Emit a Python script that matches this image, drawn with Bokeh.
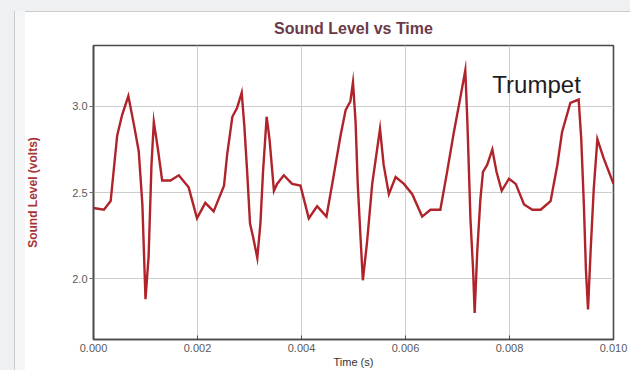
from bokeh.plotting import figure
from bokeh.models import Range1d, FixedTicker, NumeralTickFormatter, Label
from bokeh.embed import file_html
from bokeh.resources import INLINE

# Time (s) and sound level (volts)
times = [0.00000, 0.00020, 0.00033, 0.000455, 0.00055, 0.00067, 0.00078, 0.00087, 0.00094, 0.00100,
         0.00106, 0.001115, 0.00116, 0.00124, 0.00132, 0.00148, 0.00164, 0.00183, 0.00199, 0.00215,
         0.00231, 0.00251, 0.00257, 0.00267, 0.00276, 0.00285, 0.00290, 0.002955, 0.00301, 0.00307,
         0.00315, 0.00321, 0.00326, 0.00333, 0.003385, 0.00347, 0.00353, 0.00366, 0.00382, 0.00398,
         0.00414, 0.00430, 0.00448, 0.00462, 0.00475, 0.00485, 0.00494, 0.00499, 0.00504, 0.00508,
         0.005135, 0.00518, 0.00526, 0.00536, 0.00551, 0.00558, 0.00568, 0.00581, 0.00597, 0.00613,
         0.00632, 0.00648, 0.00667, 0.00680, 0.00693, 0.00706, 0.00715, 0.00719, 0.00725, 0.00730,
         0.00733, 0.00738, 0.00744, 0.00749, 0.00757, 0.00767, 0.00775, 0.00785, 0.00799, 0.00812,
         0.00828, 0.00844, 0.00860, 0.00879, 0.00892, 0.00901, 0.00917, 0.00933, 0.00938, 0.00943,
         0.00947, 0.00951, 0.00956, 0.00962, 0.00969, 0.00981, 0.01000]
levels = [2.41, 2.40, 2.45, 2.83, 2.95, 3.06, 2.89, 2.74, 2.43, 1.88,
          2.13, 2.66, 2.91, 2.75, 2.57, 2.57, 2.60, 2.53, 2.35, 2.44,
          2.39, 2.54, 2.72, 2.94, 2.99, 3.08, 2.89, 2.62, 2.32, 2.24,
          2.12, 2.32, 2.62, 2.94, 2.81, 2.51, 2.55, 2.60, 2.55, 2.54,
          2.35, 2.42, 2.36, 2.60, 2.83, 2.98, 3.03, 3.14, 2.91, 2.56,
          2.24, 1.99, 2.21, 2.55, 2.87, 2.66, 2.49, 2.59, 2.55, 2.49,
          2.36, 2.40, 2.40, 2.62, 2.85, 3.06, 3.21, 2.91, 2.34, 2.05,
          1.80, 2.16, 2.46, 2.62, 2.66, 2.75, 2.62, 2.51, 2.58, 2.55,
          2.43, 2.40, 2.40, 2.45, 2.66, 2.85, 3.02, 3.04, 2.81, 2.43,
          2.05, 1.82, 2.16, 2.52, 2.81, 2.70, 2.55]

x_ticks = [0.000, 0.002, 0.004, 0.006, 0.008, 0.010]
y_ticks = [2.0, 2.5, 3.0]
title_text = "Sound Level vs Time"
x_label = "Time (s)"
y_label = "Sound Level (volts)"
instrument = "Trumpet"

FONT = "Liberation Sans"

p = figure(width=630, height=370, output_backend="svg", toolbar_location=None,
           x_range=Range1d(0, 0.010), y_range=Range1d(1.646, 3.354),
           min_border_left=93, min_border_right=17, min_border_top=45, min_border_bottom=0,
           title=title_text)

p.background_fill_color = "white"
p.border_fill_color = "white"
p.border_fill_alpha = 0.0
# page surround: grey strips at the top and left with a thin panel edge
p.styles = {
    "background": (
        "linear-gradient(to right, #eef0f1 0px, #eef0f1 14px, #c9cbcd 14px, #c9cbcd 15px, "
        "#f4f5f6 15px, #f4f5f6 25px, rgba(255,255,255,0) 25px) 0px 11px / 100% 100% no-repeat, "
        "linear-gradient(to bottom, #eef0f1 0px, #eef0f1 11px, #c9cbcd 11px, #c9cbcd 12px, "
        "#ffffff 12px) 0px 0px / 100% 100% no-repeat"
    )
}
p.outline_line_color = "#4a4a4a"
p.outline_line_width = 1.6

p.title.align = "center"
p.title.text_font = FONT
p.title.text_font_size = "16px"
p.title.text_font_style = "bold"
p.title.text_color = "#6b3a4a"
p.title.standoff = 18

# grids
p.xgrid.grid_line_color = "#cdcdcd"
p.ygrid.grid_line_color = "#cdcdcd"

# x axis
xa = p.xaxis[0]
xa.ticker = FixedTicker(ticks=x_ticks)
xa.formatter = NumeralTickFormatter(format="0.000")
xa.minor_tick_line_color = None
xa.major_tick_in = 4
xa.major_tick_out = 0
xa.major_tick_line_color = "#4a4a4a"
xa.axis_line_color = "#4a4a4a"
xa.axis_line_width = 1.6
xa.major_label_text_font = FONT
xa.major_label_text_font_size = "11px"
xa.major_label_text_color = "#5a5a5a"
xa.major_label_standoff = 4
xa.axis_label = x_label
xa.axis_label_text_font = FONT
xa.axis_label_text_font_size = "11px"
xa.axis_label_text_font_style = "normal"
xa.axis_label_text_color = "#333333"
xa.axis_label_standoff = 1

# y axis
ya = p.yaxis[0]
ya.ticker = FixedTicker(ticks=y_ticks)
ya.formatter = NumeralTickFormatter(format="0.0")
ya.minor_tick_line_color = None
ya.major_tick_in = 0
ya.major_tick_out = 4
ya.major_tick_line_color = "#6a6a6a"
ya.axis_line_color = "#4a4a4a"
ya.axis_line_width = 1.6
ya.major_label_text_font = FONT
ya.major_label_text_font_size = "11px"
ya.major_label_text_color = "#5a5a5a"
ya.major_label_standoff = 2
ya.axis_label = y_label
ya.axis_label_text_font = FONT
ya.axis_label_text_font_size = "12px"
ya.axis_label_text_font_style = "bold"
ya.axis_label_text_color = "#a83438"
ya.axis_label_standoff = 29

p.line(times, levels, line_color="#b0232a", line_width=2.4, line_join="miter")

p.add_layout(Label(x=0.00767, y=3.125, text=instrument, text_font=FONT,
                   text_font_size="24px", text_color="#1e1e1e",
                   text_baseline="middle"))

open("out.html", "w").write(file_html(p, INLINE))
